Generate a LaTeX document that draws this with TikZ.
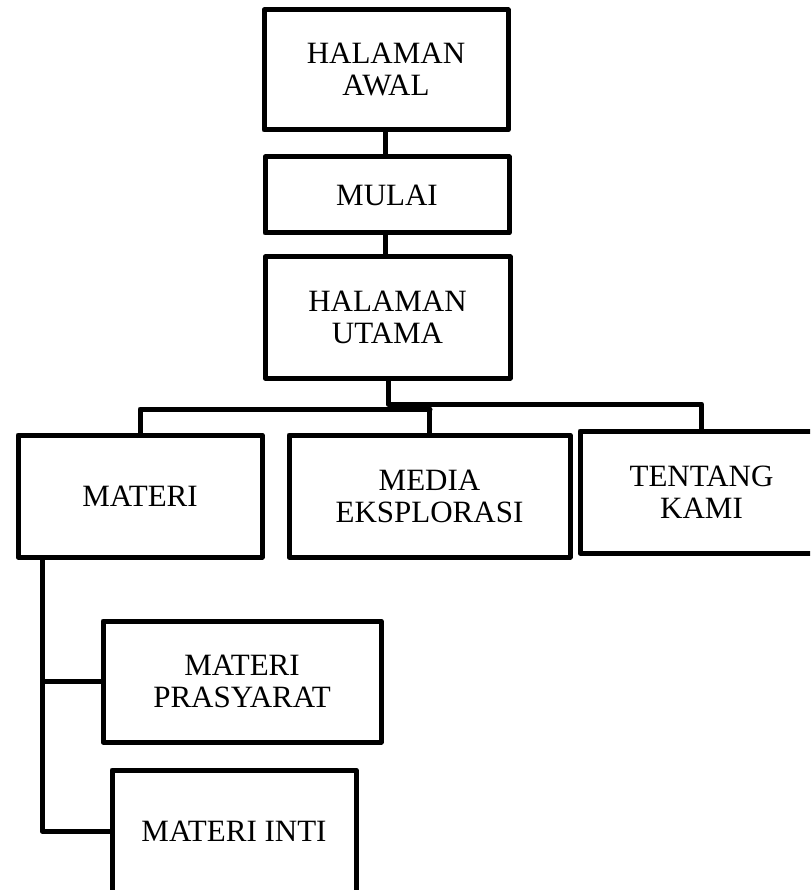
\documentclass[tikz,border=0pt]{standalone}
\usepackage{fontspec}
\setmainfont{Liberation Serif}
\begin{document}
\begin{tikzpicture}[x=1pt,y=-1pt,
  box/.style={draw=black,line width=5pt,line join=round,rectangle,inner sep=0pt,
    align=center,font=\fontsize{31}{32}\selectfont,text=black},
  conn/.style={draw=black,line width=5pt,line join=round}]
\useasboundingbox (0,0) rectangle (810,890);
\clip (0,0) rectangle (810,890);
\node[box,minimum width=244pt,minimum height=120pt] (awal) at (386,70) {HALAMAN\\AWAL};
\node[box,minimum width=244pt,minimum height=76pt] (mulai) at (387,195) {MULAI};
\node[box,minimum width=245pt,minimum height=121pt] (utama) at (387.5,317.5) {HALAMAN\\UTAMA};
\node[box,minimum width=244pt,minimum height=122pt] (materi) at (140,496) {MATERI};
\node[box,minimum width=281pt,minimum height=122pt] (media) at (429.5,496) {MEDIA\\EKSPLORASI};
\node[box,minimum width=243pt,minimum height=122pt] (tentang) at (701.5,492) {TENTANG\\KAMI};
\node[box,minimum width=278pt,minimum height=121pt] (prasyarat) at (242,681.5) {MATERI\\PRASYARAT};
\node[box,minimum width=244pt,minimum height=122pt] (inti) at (234,831) {MATERI INTI};
\coordinate (ju) at (388,404);
\coordinate (jl) at (430,409);
\coordinate (mv) at (42,600);
\draw[conn] (awal.south -| 385,0) -- (mulai.north -| 385,0);
\draw[conn] (mulai.south -| 385,0) -- (utama.north -| 385,0);
\draw[conn] (utama.south -| ju) -- (ju) -| (tentang.north);
\draw[conn] (materi.north) |- (jl) -| (media.north);
\draw[conn] (materi.south -| mv) |- (inti.west);
\draw[conn] (prasyarat.west) -- (prasyarat.west -| mv);
\end{tikzpicture}
\end{document}
